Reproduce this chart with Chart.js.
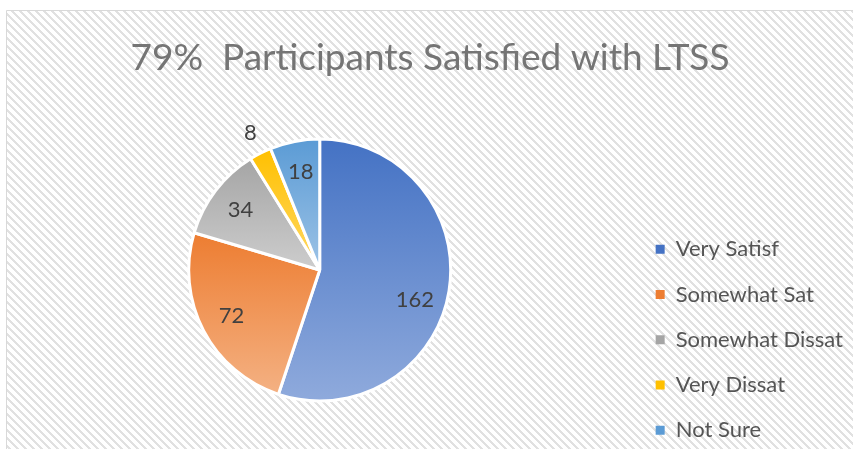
<!DOCTYPE html>
<html>
<head>
<meta charset="utf-8">
<script src="https://cdn.jsdelivr.net/npm/chart.js@4.4.0/dist/chart.umd.min.js"></script>
<style>
  html, body { margin: 0; padding: 0; background: #fff; }
  #wrap { width: 853px; height: 449px; }
</style>
</head>
<body>
<div id="wrap"><canvas id="satisfied"></canvas></div>
<script>
const titleText = '79%  Participants Satisfied with LTSS';
const categories = ['Very Satisf', 'Somewhat Sat', 'Somewhat Dissat', 'Very Dissat', 'Not Sure'];
const counts = [162, 72, 34, 8, 18];
const topColors = ['#4472C4', '#ED7D31', '#A5A5A5', '#FFC000', '#5B9BD5'];
const bottomColors = ['#8FAADC', '#F4B183', '#CDCDCD', '#FFD966', '#9DC3E6'];

// hatched backdrop + thin frame like the office chart area
const backdrop = {
    id: 'backdrop',
    beforeDraw(chart) {
        const ctx = chart.ctx;
        const tile = document.createElement('canvas');
        tile.width = 8;
        tile.height = 8;
        const t = tile.getContext('2d');
        t.fillStyle = '#ffffff';
        t.fillRect(0, 0, 8, 8);
        t.fillStyle = '#e1e1e1';
        for (let y = 0; y < 8; y++) {
            for (let x = 0; x < 8; x++) {
                if (((x - y) % 8 + 8) % 8 < 3) t.fillRect(x, y, 1, 1);
            }
        }
        ctx.save();
        ctx.fillStyle = '#ffffff';
        ctx.fillRect(0, 0, chart.width, chart.height);
        ctx.fillStyle = ctx.createPattern(tile, 'repeat');
        ctx.fillRect(7, 11, chart.width, chart.height);
        ctx.strokeStyle = '#d9d9d9';
        ctx.lineWidth = 1;
        ctx.beginPath();
        ctx.moveTo(6.5, chart.height);
        ctx.lineTo(6.5, 10.5);
        ctx.lineTo(chart.width, 10.5);
        ctx.stroke();
        ctx.restore();
    }
};

// vertical gradient per slice, from its own top to its own bottom
const sliceGradients = {
    id: 'sliceGradients',
    beforeDatasetsDraw(chart) {
        const ctx = chart.ctx;
        chart.getDatasetMeta(0).data.forEach((arc, i) => {
            const r = arc.outerRadius;
            let ys = [arc.y, arc.y + r * Math.sin(arc.startAngle), arc.y + r * Math.sin(arc.endAngle)];
            for (let k = -2; k <= 2; k++) {
                const down = Math.PI / 2 + k * 2 * Math.PI;
                const up = -Math.PI / 2 + k * 2 * Math.PI;
                if (down > arc.startAngle && down < arc.endAngle) ys.push(arc.y + r);
                if (up > arc.startAngle && up < arc.endAngle) ys.push(arc.y - r);
            }
            const g = ctx.createLinearGradient(0, Math.min(...ys), 0, Math.max(...ys));
            g.addColorStop(0, topColors[i]);
            g.addColorStop(1, bottomColors[i]);
            arc.options.backgroundColor = g;
        });
    }
};

const valueLabels = {
    id: 'valueLabels',
    afterDatasetsDraw(chart) {
        const ctx = chart.ctx;
        const total = counts.reduce((a, b) => a + b, 0);
        ctx.save();
        ctx.font = '22px Lato';
        ctx.fillStyle = '#404040';
        ctx.textAlign = 'center';
        ctx.textBaseline = 'middle';
        chart.getDatasetMeta(0).data.forEach((arc, i) => {
            const share = counts[i] / total;
            let mid = (arc.startAngle + arc.endAngle) / 2;
            // big slice: excel's best fit pushes the label a bit lower
            if (share > 0.5) mid += 0.14;
            const f = share < 0.04 ? 1.17 : 0.76;
            const x = arc.x + Math.cos(mid) * arc.outerRadius * f;
            const y = arc.y + Math.sin(mid) * arc.outerRadius * f;
            ctx.fillText(String(counts[i]), x, y);
        });
        ctx.restore();
    }
};

new Chart(document.getElementById('satisfied'), {
    type: 'pie',
    data: {
        labels: categories,
        datasets: [{
            data: counts,
            backgroundColor: topColors,
            borderColor: '#ffffff',
            borderWidth: 3,
            radius: 131
        }]
    },
    options: {
        responsive: true,
        maintainAspectRatio: false,
        devicePixelRatio: 1,
        animation: false,
        layout: {
            padding: { top: 10, left: 7, right: 0, bottom: -15.5 }
        },
        plugins: {
            title: {
                display: true,
                text: titleText,
                color: '#757575',
                font: { family: 'Lato', size: 37, weight: 'normal', lineHeight: 0.8 },
                padding: { top: 33.2, bottom: 18.2 }
            },
            legend: {
                position: 'right',
                align: 'end',
                labels: {
                    boxWidth: 9,
                    boxHeight: 9,
                    padding: 23.25,
                    color: '#555555',
                    font: { family: 'Lato', size: 22 },
                    generateLabels(chart) {
                        return Chart.overrides.pie.plugins.legend.labels.generateLabels(chart)
                            .map(item => ({ ...item, lineWidth: 0 }));
                    }
                }
            },
            tooltip: { enabled: false }
        }
    },
    plugins: [backdrop, sliceGradients, valueLabels]
});
</script>
</body>
</html>
